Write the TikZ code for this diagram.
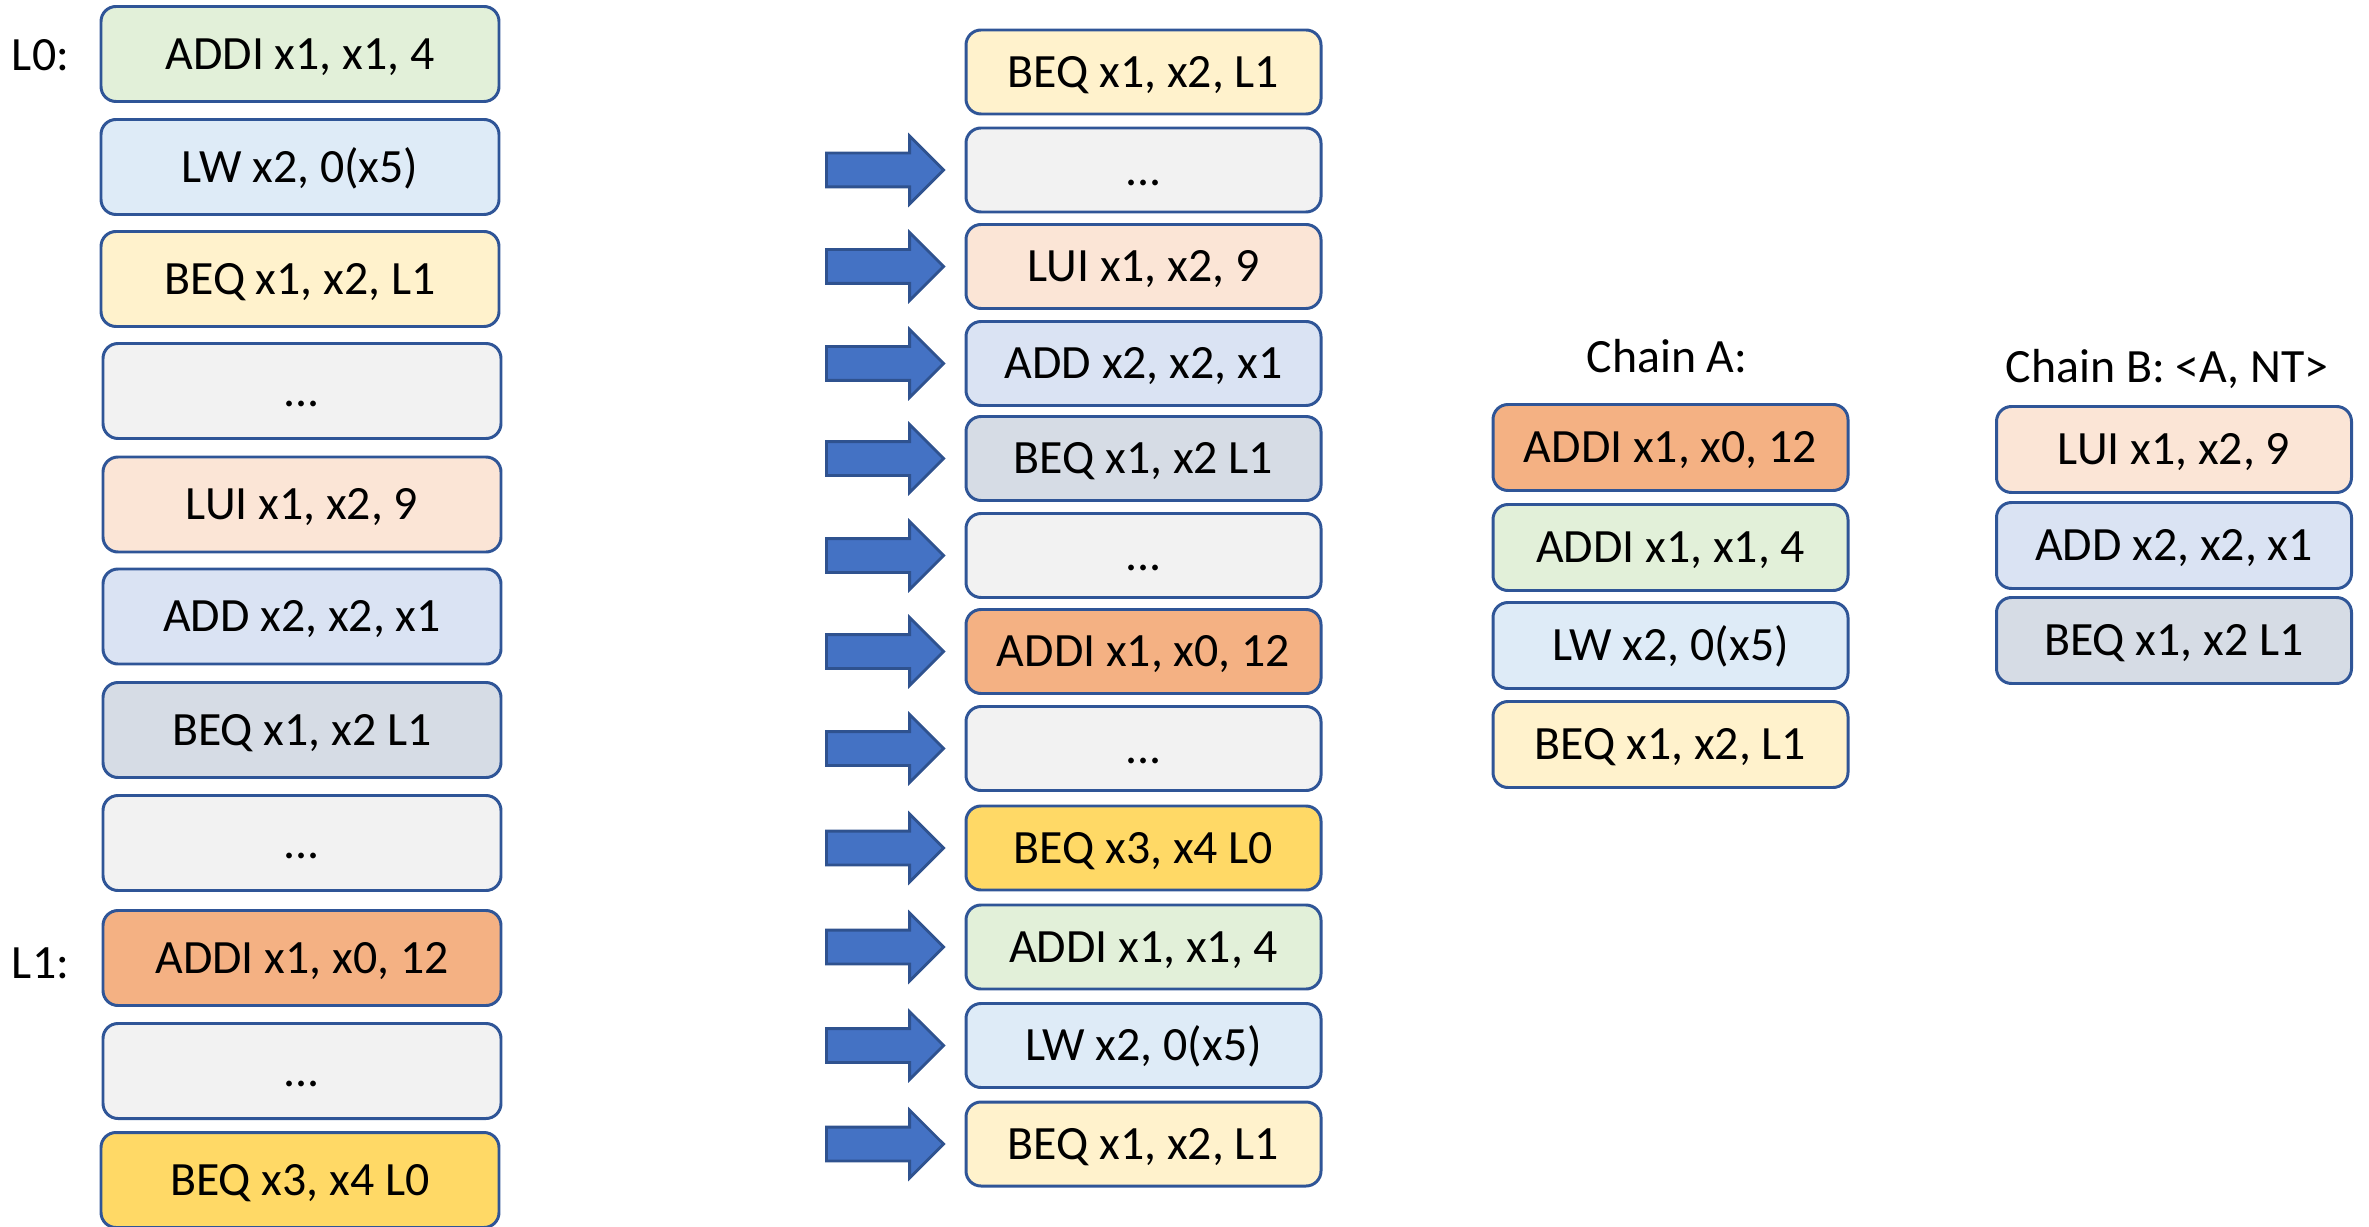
\documentclass[tikz,border=0pt]{standalone}
\usepackage{fontspec}
\setmainfont{Carlito}
\usetikzlibrary{positioning,shapes.arrows}
\definecolor{edgeblue}{HTML}{2F5597}
\definecolor{arrowblue}{HTML}{4472C4}
\definecolor{arrowedge}{HTML}{2F528F}
\definecolor{cgreen}{HTML}{E2F0D9}
\definecolor{clblue}{HTML}{DEEBF7}
\definecolor{cyellow}{HTML}{FFF2CC}
\definecolor{cgrey}{HTML}{F2F2F2}
\definecolor{cpeach}{HTML}{FBE5D6}
\definecolor{cblue}{HTML}{DAE3F3}
\definecolor{cslate}{HTML}{D6DCE5}
\definecolor{corange}{HTML}{F4B183}
\definecolor{cgold}{HTML}{FFD966}
\tikzset{
  ibox/.style   = {draw=edgeblue, line width=0.85pt, rounded corners=0.15cm,
                   minimum width=3.98cm, minimum height=0.95cm, inner sep=0pt,
                   font=\fontsize{13.6}{16}\selectfont, text height=8.7pt,
                   text depth=0pt},
  mbox/.style   = {ibox, minimum width=3.55cm, minimum height=0.84cm},
  cbox/.style   = {ibox, minimum width=3.55cm, minimum height=0.86cm},
  barrow/.style = {single arrow, draw=arrowedge, fill=arrowblue,
                   line width=0.8pt, inner xsep=0pt, inner ysep=0.155cm,
                   minimum height=1.17cm, minimum width=0.65cm,
                   single arrow head extend=0.17cm},
  lbl/.style    = {font=\fontsize{13.6}{16}\selectfont, inner sep=0pt,
                   text height=8.7pt, text depth=0pt},
}
\begin{document}
\begin{tikzpicture}
  \useasboundingbox (0,0) rectangle (23.69,-12.27);
  % program as written
  \node[lbl] (lab0) at (0.405,-0.555) {L0:};
  \node[lbl] (lab1) at (0.405,-9.635) {L1:};
  \node[ibox, fill=cgreen]  (l1)  at (3.00,-0.54)  {ADDI x1, x1, 4};
  \node[ibox, fill=clblue]  (l2)  at (3.00,-1.67)  {LW x2, 0(x5)};
  \node[ibox, fill=cyellow] (l3)  at (3.00,-2.79)  {BEQ x1, x2, L1};
  \node[ibox, fill=cgrey]   (l4)  at (3.02,-3.91)  {...};
  \node[ibox, fill=cpeach]  (l5)  at (3.02,-5.045) {LUI x1, x2, 9};
  \node[ibox, fill=cblue]   (l6)  at (3.02,-6.165) {ADD x2, x2, x1};
  \node[ibox, fill=cslate]  (l7)  at (3.02,-7.30)  {BEQ x1, x2 L1};
  \node[ibox, fill=cgrey]   (l8)  at (3.02,-8.43)  {...};
  \node[ibox, fill=corange] (l9)  at (3.02,-9.58)  {ADDI x1, x0, 12};
  \node[ibox, fill=cgrey]   (l10) at (3.02,-10.71) {...};
  \node[ibox, fill=cgold]   (l11) at (3.00,-11.80) {BEQ x3, x4 L0};
  % dynamic stream
  \node[mbox, fill=cyellow] (m1)  at (11.435,-0.72)  {BEQ x1, x2, L1};
  \node[mbox, fill=cgrey]   (m2)  at (11.435,-1.70)  {...};
  \node[mbox, fill=cpeach]  (m3)  at (11.435,-2.665) {LUI x1, x2, 9};
  \node[mbox, fill=cblue]   (m4)  at (11.435,-3.635) {ADD x2, x2, x1};
  \node[mbox, fill=cslate]  (m5)  at (11.435,-4.585) {BEQ x1, x2 L1};
  \node[mbox, fill=cgrey]   (m6)  at (11.435,-5.555) {...};
  \node[mbox, fill=corange] (m7)  at (11.435,-6.515) {ADDI x1, x0, 12};
  \node[mbox, fill=cgrey]   (m8)  at (11.435,-7.485) {...};
  \node[mbox, fill=cgold]   (m9)  at (11.435,-8.48)  {BEQ x3, x4 L0};
  \node[mbox, fill=cgreen]  (m10) at (11.435,-9.47)  {ADDI x1, x1, 4};
  \node[mbox, fill=clblue]  (m11) at (11.435,-10.455){LW x2, 0(x5)};
  \node[mbox, fill=cyellow] (m12) at (11.435,-11.44) {BEQ x1, x2, L1};
  \node[barrow, left=0.19cm of m2]  (a2)  {};
  \node[barrow, left=0.19cm of m3]  (a3)  {};
  \node[barrow, left=0.19cm of m4]  (a4)  {};
  \node[barrow, left=0.19cm of m5]  (a5)  {};
  \node[barrow, left=0.19cm of m6]  (a6)  {};
  \node[barrow, left=0.19cm of m7]  (a7)  {};
  \node[barrow, left=0.19cm of m8]  (a8)  {};
  \node[barrow, left=0.19cm of m9]  (a9)  {};
  \node[barrow, left=0.19cm of m10] (a10) {};
  \node[barrow, left=0.19cm of m11] (a11) {};
  \node[barrow, left=0.19cm of m12] (a12) {};
  % chains
  \node[lbl] (ta) at (16.67,-3.57) {Chain A:};
  \node[cbox, fill=corange] (ca1) at (16.705,-4.475) {ADDI x1, x0, 12};
  \node[cbox, fill=cgreen]  (ca2) at (16.705,-5.475) {ADDI x1, x1, 4};
  \node[cbox, fill=clblue]  (ca3) at (16.705,-6.455) {LW x2, 0(x5)};
  \node[cbox, fill=cyellow] (ca4) at (16.705,-7.445) {BEQ x1, x2, L1};
  \node[lbl] (tb) at (21.67,-3.67) {Chain B: <A, NT>};
  \node[cbox, fill=cpeach]  (cb1) at (21.74,-4.495) {LUI x1, x2, 9};
  \node[cbox, fill=cblue]   (cb2) at (21.74,-5.455) {ADD x2, x2, x1};
  \node[cbox, fill=cslate]  (cb3) at (21.74,-6.405) {BEQ x1, x2 L1};
\end{tikzpicture}
\end{document}
